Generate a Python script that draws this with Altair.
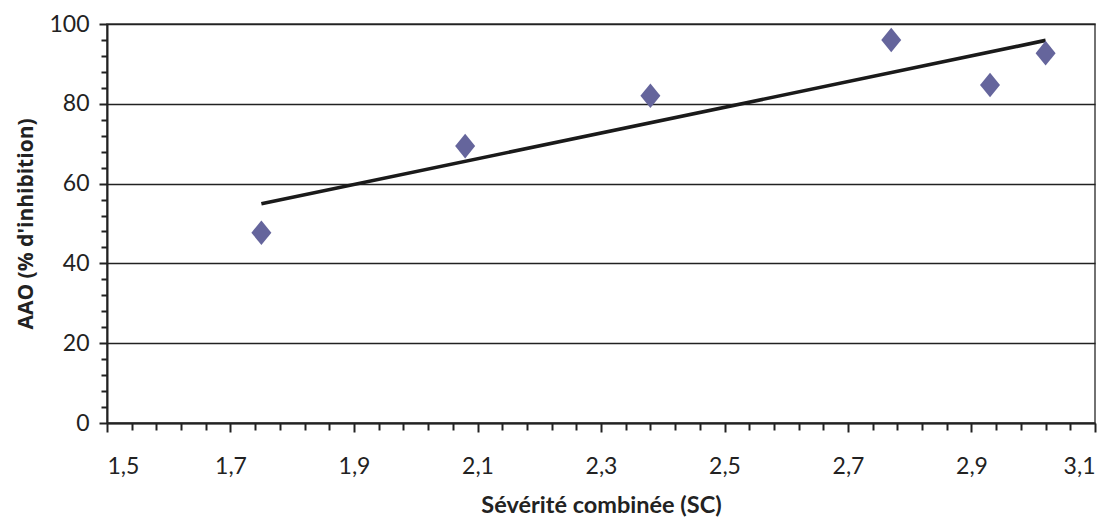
import altair as alt
import pandas as pd

# Data
sc = [1.75, 2.08, 2.38, 2.77, 2.93, 3.02]
aao = [47.7, 69.4, 82.0, 96.0, 84.7, 92.7]

x_ticks = [round(1.5 + 0.04 * i, 2) for i in range(41)]
y_ticks = [4 * i for i in range(26)]

df = pd.DataFrame({"sc": sc, "aao": aao})

FONT = "Lato"

x_major = "abs(round((datum.value - 1.5) / 0.2) - (datum.value - 1.5) / 0.2) < 0.001"
y_major = "datum.value % 20 === 0"

x_enc = alt.X(
    "sc:Q",
    scale=alt.Scale(domain=[1.5, 3.1], nice=False, zero=False),
    axis=alt.Axis(
        title="Sévérité combinée (SC)",
        values=x_ticks,
        labelExpr=f"({x_major}) ? replace(format(datum.value, '.1f'), '.', ',') : ''",
        tickSize={"condition": {"test": x_major, "value": 9}, "value": 7},
        grid=False,
        labelPadding=23,
        titlePadding=15,
        titleFont=FONT,
        titleFontSize=23.5,
    ),
)
y_enc = alt.Y(
    "aao:Q",
    scale=alt.Scale(domain=[0, 100], nice=False),
    axis=alt.Axis(
        title="AAO (% d'inhibition)",
        values=y_ticks,
        labelExpr=f"({y_major}) ? datum.value : ''",
        tickSize={"condition": {"test": y_major, "value": 8}, "value": 6},
        grid=True,
        gridOpacity={"condition": {"test": y_major, "value": 1}, "value": 0},
        labelPadding=10,
        titlePadding=12,
        titleFont="Open Sans",
        titleFontSize=21,
    ),
)

points = alt.Chart(df).mark_point(
    shape="M0,-1.23L1,0L0,1.23L-1,0Z",
    size=400,
    filled=True,
    color="#65659c",
    opacity=1,
).encode(x=x_enc, y=y_enc)

trend = (
    alt.Chart(df)
    .transform_regression("sc", "aao", method="linear", extent=[1.75, 3.02])
    .mark_line(color="#1a1a1a", strokeWidth=3.6)
    .encode(x=x_enc, y=y_enc)
)

chart = (
    alt.layer(trend, points)
    .properties(
        width=988,
        height=399,
        autosize=alt.AutoSizeParams(type="none"),
        padding={"left": 99, "top": 16, "right": 9, "bottom": 97},
        background="white",
    )
    .configure_view(stroke="#444444", strokeWidth=1.5)
    .configure_axis(
        domainColor="#222222",
        domainWidth=2,
        tickColor="#222222",
        tickWidth=2,
        gridColor="#222222",
        gridWidth=1.5,
        labelFont=FONT,
        labelFontSize=23,
        labelColor="#222222",
        titleFontWeight="bold",
        titleColor="#222222",
    )
)

chart.save("out.html", embed_options={"renderer": "svg", "actions": False})
